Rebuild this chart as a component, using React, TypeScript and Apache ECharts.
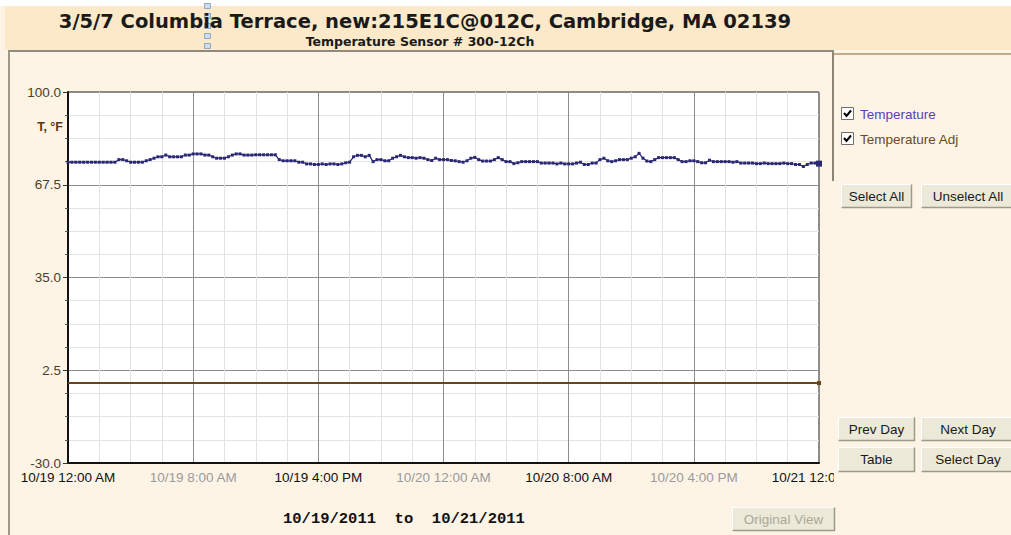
import { useEffect, useRef } from "react";
import * as echarts from "echarts";

const TITLE = "3/5/7 Columbia Terrace, new:215E1C@012C, Cambridge, MA 02139";
const SUBTITLE = "Temperature Sensor # 300-12Ch";
const Y_NAME = "T, °F";
const DATE_RANGE = "10/19/2011  to  10/21/2011";
const SERIES_NAMES = ["Temperature", "Temperature Adj"];

const Y_MIN = -30;
const Y_MAX = 100;
const Y_STEP = 32.5;
const X_MAX_H = 48;
const X_STEP_H = 8;
const X_LABELS = [
  "10/19 12:00 AM",
  "10/19 8:00 AM",
  "10/19 4:00 PM",
  "10/20 12:00 AM",
  "10/20 8:00 AM",
  "10/20 4:00 PM",
  "10/21 12:00 AM",
];

// readings every 15 minutes starting 10/19 12:00 AM (hours from start)
const SAMPLE_STEP_H = 0.25;
const TEMP_F = [
  75.4, 75.4, 75.4, 75.4, 75.4, 75.4, 75.4, 75.4, 75.4, 75.4, 75.4, 75.4,
  75.4, 76.3, 76.3, 75.9, 75.4, 75.4, 75.4, 75.4, 75.9, 76.3, 76.8, 77.3,
  77.3, 77.9, 77.3, 77.3, 77.3, 77.3, 77.9, 77.9, 78.3, 78.3, 78.3, 77.9,
  77.9, 77.3, 76.8, 76.8, 76.8, 77.3, 77.9, 78.3, 78.3, 77.9, 77.9, 77.9,
  78.0, 78.0, 78.0, 78.0, 78.0, 78.0, 76.3, 75.9, 75.9, 75.9, 75.9, 75.4,
  75.4, 74.8, 74.8, 74.6, 74.6, 74.8, 74.6, 74.8, 74.8, 74.6, 74.8, 75.2,
  75.4, 77.3, 77.8, 77.8, 77.3, 77.8, 75.6, 76.3, 76.3, 75.9, 75.9, 76.8,
  77.3, 77.8, 77.3, 77.0, 77.0, 76.8, 77.0, 76.8, 76.3, 76.0, 76.8, 76.3,
  76.3, 76.3, 76.0, 75.9, 75.6, 75.4, 75.9, 76.8, 77.1, 76.3, 75.8, 75.8,
  75.8, 76.3, 77.0, 76.3, 75.6, 75.6, 74.9, 75.2, 75.6, 75.6, 75.6, 75.6,
  75.6, 75.1, 75.1, 75.1, 75.1, 74.8, 75.1, 74.8, 74.8, 74.8, 75.1, 75.4,
  74.6, 74.6, 75.1, 75.1, 76.3, 76.8, 75.9, 75.6, 75.9, 76.3, 76.3, 76.3,
  76.8, 77.3, 78.5, 76.8, 75.8, 75.6, 76.3, 77.0, 77.0, 77.0, 77.0, 77.0,
  76.3, 75.6, 75.6, 75.9, 75.9, 75.6, 75.2, 75.2, 76.1, 75.6, 75.6, 75.6,
  75.6, 75.6, 75.4, 75.6, 75.1, 75.1, 75.1, 75.1, 74.9, 74.9, 75.1, 74.9,
  74.9, 74.9, 74.9, 75.1, 74.9, 74.9, 74.6, 74.6, 73.9, 74.6, 75.1, 75.1,
  74.9,
];
const ADJ_HOURS = [0, 8, 16, 24, 32, 40, 48];
const ADJ_F = [-2.0, -2.0, -2.0, -2.0, -2.0, -2.0, -2.0];

const BUTTONS = [
  { label: "Select All", x: 841, y: 184, w: 71, h: 24, disabled: false },
  { label: "Unselect All", x: 921, y: 184, w: 94, h: 24, disabled: false },
  { label: "Prev Day", x: 838, y: 417, w: 77, h: 24, disabled: false },
  { label: "Next Day", x: 921, y: 417, w: 94, h: 24, disabled: false },
  { label: "Table", x: 838, y: 447, w: 77, h: 25, disabled: false },
  { label: "Select Day", x: 921, y: 447, w: 94, h: 25, disabled: false },
  { label: "Original View", x: 732, y: 507, w: 103, h: 24, disabled: true },
];

const COLORS = {
  page: "#fdf4e6",
  band: "#fbe9c9",
  temp: "#2a2775",
  adj: "#6a4418",
  tempText: "#5a3fb5",
  adjText: "#6a4a22",
  yLabel: "#4c3c2a",
};

function button(b: any) {
  const x2 = b.x + b.w;
  const y2 = b.y + b.h;
  return {
    type: "group",
    z: 30,
    children: [
      { type: "rect", shape: { x: b.x, y: b.y, width: b.w, height: b.h }, style: { fill: "#ece9d8" }, z: 30 },
      { type: "polyline", shape: { points: [[b.x + 0.5, y2 - 0.5], [b.x + 0.5, b.y + 0.5], [x2 - 0.5, b.y + 0.5]] }, style: { stroke: "#ffffff", lineWidth: 1, fill: null }, z: 31 },
      { type: "polyline", shape: { points: [[b.x + 0.5, y2 - 0.5], [x2 - 0.5, y2 - 0.5], [x2 - 0.5, b.y + 0.5]] }, style: { stroke: "#9d9a8c", lineWidth: 1.5, fill: null }, z: 31 },
      {
        type: "text",
        x: b.x + b.w / 2,
        y: b.y + b.h / 2,
        z: 32,
        style: {
          text: b.label,
          fill: b.disabled ? "#aca899" : "#1a1a1a",
          font: "13.5px 'Liberation Sans', Arial, sans-serif",
          align: "center",
          verticalAlign: "middle",
        },
      },
    ],
  };
}

function checkbox(x: number, y: number) {
  return {
    type: "group",
    z: 30,
    children: [
      { type: "rect", shape: { x: x + 0.5, y: y + 0.5, width: 12, height: 12 }, style: { fill: "#ffffff", stroke: "#6f6f6f", lineWidth: 1 }, z: 30 },
      { type: "polyline", shape: { points: [[x + 3, y + 6], [x + 5.5, y + 9], [x + 10, y + 3.5]] }, style: { stroke: "#000", lineWidth: 2, fill: null }, z: 31 },
    ],
  };
}

export default function App() {
  const ref = useRef<HTMLDivElement>(null);

  useEffect(() => {
    if (!ref.current) return;
    const chart = echarts.init(ref.current, null, { renderer: "svg" });

    const tempData = TEMP_F.map((v, i) => {
      const pt: any = { value: [i * SAMPLE_STEP_H, v - Y_MIN] };
      if (i === TEMP_F.length - 1) pt.symbolSize = 6;
      return pt;
    });
    const adjData = ADJ_F.map((v, i) => {
      const pt: any = { value: [ADJ_HOURS[i], v - Y_MIN] };
      if (i === ADJ_F.length - 1) {
        pt.symbol = "rect";
        pt.symbolSize = 4;
      }
      return pt;
    });

    const handle = [3, 13, 23, 33, 43].map((yy) => ({
      type: "rect",
      shape: { x: 204.5, y: yy + 0.5, width: 6, height: 5 },
      style: { fill: "#cfdcea", stroke: "#93a8c2", lineWidth: 1 },
      z: 20,
    }));

    const option: any = {
      animation: false,
      backgroundColor: COLORS.page,
      grid: {
        left: 68,
        top: 92,
        width: 751,
        height: 371,
        show: true,
        backgroundColor: "#ffffff",
        borderColor: "#1a1a1a",
        borderWidth: 1,
      },
      xAxis: {
        type: "value",
        min: 0,
        max: X_MAX_H,
        interval: X_STEP_H,
        axisLine: { show: true, onZero: false, lineStyle: { color: "#111", width: 2 } },
        axisTick: { show: false },
        axisLabel: {
          margin: 7,
          showMinLabel: true,
          showMaxLabel: true,
          hideOverlap: false,
          formatter: (v: number) => {
            const idx = Math.round(v / X_STEP_H);
            const lab = X_LABELS[idx] ?? "";
            return idx % 2 === 0 ? `{a|${lab}}` : `{b|${lab}}`;
          },
          rich: {
            a: { color: "#111111", fontSize: 13.5, fontFamily: "'Liberation Sans', Arial, sans-serif" },
            b: { color: "#9a9a9a", fontSize: 13.5, fontFamily: "'Liberation Sans', Arial, sans-serif" },
          },
        },
        splitLine: { show: true, lineStyle: { color: "#8c8c8c", width: 1 } },
        minorTick: { show: false, splitNumber: 4 },
        minorSplitLine: { show: true, lineStyle: { color: "#e3e3e3", width: 1 } },
      },
      yAxis: {
        type: "value",
        min: 0,
        max: Y_MAX - Y_MIN,
        interval: Y_STEP,
        axisLine: { show: true, onZero: false, lineStyle: { color: "#111", width: 2 } },
        axisTick: { show: true, length: 5, lineStyle: { color: "#333" } },
        minorTick: { show: true, splitNumber: 4, length: 3, lineStyle: { color: "#555" } },
        axisLabel: {
          margin: 7,
          color: COLORS.yLabel,
          fontSize: 13.5,
          fontFamily: "'Liberation Sans', Arial, sans-serif",
          formatter: (v: number) => (v + Y_MIN).toFixed(1),
        },
        splitLine: { show: true, lineStyle: { color: "#8c8c8c", width: 1 } },
        minorSplitLine: { show: true, lineStyle: { color: "#e3e3e3", width: 1 } },
      },
      series: [
        {
          name: SERIES_NAMES[0],
          type: "line",
          data: tempData,
          color: COLORS.temp,
          symbol: "rect",
          symbolSize: 3,
          showAllSymbol: true,
          lineStyle: { color: COLORS.temp, width: 1.2 },
          itemStyle: { color: COLORS.temp },
          z: 5,
        },
        {
          name: SERIES_NAMES[1],
          type: "line",
          data: adjData,
          color: COLORS.adj,
          symbol: "none",
          lineStyle: { color: COLORS.adj, width: 2 },
          itemStyle: { color: COLORS.adj },
          z: 4,
        },
      ],
      graphic: [
        // white strip at top and title band
        { type: "rect", shape: { x: 0, y: 0, width: 1011, height: 6 }, style: { fill: "#ffffff" }, z: 1 },
        { type: "rect", shape: { x: 5, y: 6, width: 1006, height: 44 }, style: { fill: COLORS.band }, z: 1 },
        ...handle,
        {
          type: "text",
          x: 425,
          y: 21,
          z: 21,
          style: {
            text: TITLE,
            fill: "#1a1a1a",
            font: "bold 19.5px 'DejaVu Sans', Verdana, sans-serif",
            align: "center",
            verticalAlign: "middle",
          },
        },
        {
          type: "text",
          x: 420,
          y: 41,
          z: 21,
          style: {
            text: SUBTITLE,
            fill: "#1a1a1a",
            font: "bold 12.5px 'DejaVu Sans', Verdana, sans-serif",
            align: "center",
            verticalAlign: "middle",
          },
        },
        // frame lines
        { type: "line", shape: { x1: 8, y1: 51, x2: 834, y2: 51 }, style: { stroke: "#8e8a80", lineWidth: 2 }, z: 2 },
        { type: "line", shape: { x1: 9, y1: 51, x2: 9, y2: 535 }, style: { stroke: "#a09888", lineWidth: 2 }, z: 2 },
        // right panel
        { type: "line", shape: { x1: 833, y1: 54, x2: 1011, y2: 54 }, style: { stroke: "#c2ad88", lineWidth: 2 }, z: 2 },
        { type: "line", shape: { x1: 833, y1: 52, x2: 833, y2: 181 }, style: { stroke: "#8c8576", lineWidth: 2 }, z: 2 },
        // cover to clip last x label
        { type: "rect", shape: { x: 834, y: 182, width: 177, height: 353 }, style: { fill: COLORS.page }, z: 25 },
        // legend
        checkbox(841, 107),
        {
          type: "text",
          x: 860,
          y: 114,
          z: 30,
          style: { text: SERIES_NAMES[0], fill: COLORS.tempText, font: "13.5px 'Liberation Sans', Arial, sans-serif", verticalAlign: "middle" },
        },
        checkbox(841, 132),
        {
          type: "text",
          x: 860,
          y: 139,
          z: 30,
          style: { text: SERIES_NAMES[1], fill: COLORS.adjText, font: "13.5px 'Liberation Sans', Arial, sans-serif", verticalAlign: "middle" },
        },
        // y axis name
        {
          type: "text",
          x: 63,
          y: 127,
          z: 30,
          style: { text: Y_NAME, fill: "#5a3512", font: "bold 12.5px 'Liberation Sans', Arial, sans-serif", align: "right", verticalAlign: "middle" },
        },
        // date range
        {
          type: "text",
          x: 283,
          y: 519,
          z: 30,
          style: { text: DATE_RANGE, fill: "#111", font: "bold 15.5px 'Liberation Mono', 'Courier New', monospace", verticalAlign: "middle" },
        },
        ...BUTTONS.map(button),
      ],
    };

    chart.setOption(option);
    return () => chart.dispose();
  }, []);

  return (
    <div
      ref={ref}
      style={{ position: "fixed", left: 0, top: 0, width: 1011, height: 535 }}
    />
  );
}
